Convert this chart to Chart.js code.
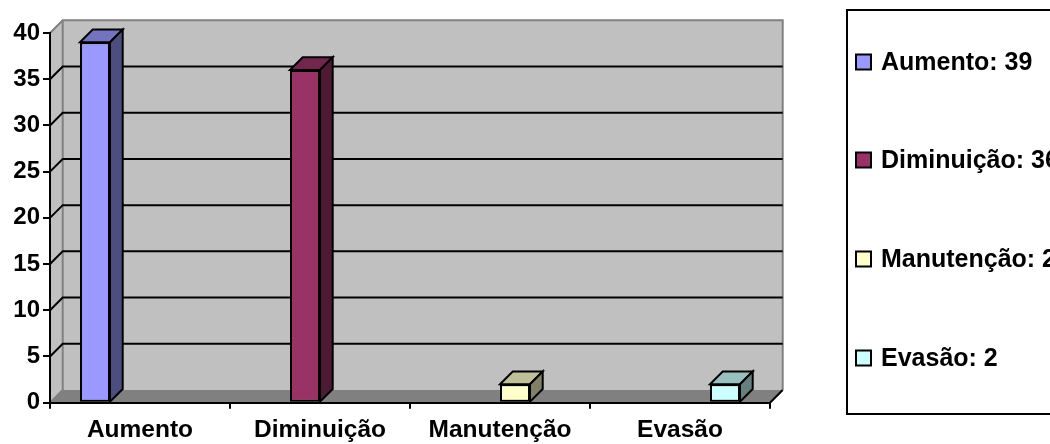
<!DOCTYPE html>
<html>
<head>
<meta charset="utf-8">
<script src="https://cdn.jsdelivr.net/npm/chart.js@4/dist/chart.umd.min.js"></script>
<style>
  html, body { margin: 0; padding: 0; background: #ffffff; }
  #wrap { width: 1050px; height: 444px; position: relative; overflow: hidden; }
  canvas { display: block; }
</style>
</head>
<body>
<div id="wrap"><canvas id="c" width="1050" height="444"></canvas></div>
<script>
// ---- data ----
const categories = ['Aumento', 'Diminuição', 'Manutenção', 'Evasão'];
const values = [39, 36, 2, 2];
const yTicks = [0, 5, 10, 15, 20, 25, 30, 35, 40];

// ---- styles ----
const frontColors = ['#9999FF', '#993366', '#FFFFCC', '#CCFFFF'];
const topColors   = ['#7373BF', '#73264D', '#BFBF99', '#99BFBF'];
const sideColors  = ['#4D4D80', '#4D1A33', '#808066', '#668080'];
const FONT = '"Liberation Sans", Arial, Helvetica, sans-serif';
const DEPTH = 12.7;

const datasets = categories.map((name, i) => ({
  label: name + ': ' + values[i],
  data: categories.map((c, j) => (j === i ? values[i] : null)),
  backgroundColor: frontColors[i],
  borderColor: '#000000',
  borderWidth: 2,
  borderSkipped: false,
  categoryPercentage: 2 / 3,
  barPercentage: 1.0
}));

const wallPlugin = {
  id: 'walls',
  beforeDraw(chart) {
    const ctx = chart.ctx;
    const a = chart.chartArea;
    const ys = chart.scales.y;
    const d = DEPTH;
    const yTop = ys.getPixelForValue(40);
    const yBot = ys.getPixelForValue(0);
    ctx.save();
    // back wall
    ctx.fillStyle = '#C0C0C0';
    ctx.fillRect(a.left + d, yTop - d, a.right - a.left, yBot - yTop);
    // side wall
    ctx.beginPath();
    ctx.moveTo(a.left, yTop);
    ctx.lineTo(a.left + d, yTop - d);
    ctx.lineTo(a.left + d, yBot - d);
    ctx.lineTo(a.left, yBot);
    ctx.closePath();
    ctx.fill();
    // floor
    ctx.fillStyle = '#808080';
    ctx.beginPath();
    ctx.moveTo(a.left, yBot);
    ctx.lineTo(a.left + d, yBot - d);
    ctx.lineTo(a.right + d, yBot - d);
    ctx.lineTo(a.right, yBot);
    ctx.closePath();
    ctx.fill();
    // gray borders of walls
    ctx.strokeStyle = '#808080';
    ctx.lineWidth = 2;
    ctx.beginPath();
    ctx.moveTo(a.left, yTop);
    ctx.lineTo(a.left + d, yTop - d);
    ctx.lineTo(a.right + d, yTop - d);
    ctx.lineTo(a.right + d, yBot - d);
    ctx.moveTo(a.left + d, yTop - d);
    ctx.lineTo(a.left + d, yBot - d);
    ctx.moveTo(a.left, yBot);
    ctx.lineTo(a.left + d, yBot - d);
    ctx.stroke();
    // grid lines
    ctx.strokeStyle = '#000000';
    ctx.lineWidth = 2;
    ctx.beginPath();
    yTicks.forEach(v => {
      if (v === 0 || v === 40) return;
      const yp = ys.getPixelForValue(v);
      ctx.moveTo(a.left, yp);
      ctx.lineTo(a.left + d, yp - d);
      ctx.lineTo(a.right + d, yp - d);
    });
    ctx.stroke();
    // right floor edge
    ctx.beginPath();
    ctx.moveTo(a.right, yBot);
    ctx.lineTo(a.right + d, yBot - d);
    ctx.stroke();
    ctx.restore();
  },
  afterDatasetsDraw(chart) {
    const ctx = chart.ctx;
    const d = DEPTH;
    ctx.save();
    ctx.strokeStyle = '#000000';
    ctx.lineWidth = 2;
    ctx.lineJoin = 'miter';
    chart.data.datasets.forEach((ds, i) => {
      const meta = chart.getDatasetMeta(i);
      meta.data.forEach((el, j) => {
        if (ds.data[j] === null || ds.data[j] === undefined) return;
        const p = el.getProps(['x', 'y', 'base', 'width'], true);
        const l = p.x - p.width / 2, r = p.x + p.width / 2;
        // top face
        ctx.fillStyle = topColors[i];
        ctx.beginPath();
        ctx.moveTo(l, p.y);
        ctx.lineTo(l + d, p.y - d);
        ctx.lineTo(r + d, p.y - d);
        ctx.lineTo(r, p.y);
        ctx.closePath();
        ctx.fill();
        ctx.stroke();
        // side face
        ctx.fillStyle = sideColors[i];
        ctx.beginPath();
        ctx.moveTo(r, p.y);
        ctx.lineTo(r + d, p.y - d);
        ctx.lineTo(r + d, p.base - d);
        ctx.lineTo(r, p.base);
        ctx.closePath();
        ctx.fill();
        ctx.stroke();
      });
    });
    ctx.restore();
  },
  afterDraw(chart) {
    // legend box
    const ctx = chart.ctx;
    ctx.save();
    ctx.strokeStyle = '#000000';
    ctx.lineWidth = 2;
    ctx.strokeRect(847, 10, 240, 404);
    const centers = [62, 160, 259, 358];
    ctx.font = 'bold 25px ' + FONT;
    ctx.textBaseline = 'middle';
    ctx.textAlign = 'left';
    chart.data.datasets.forEach((ds, i) => {
      const cy = centers[i];
      ctx.fillStyle = frontColors[i];
      ctx.fillRect(856, cy - 7.5, 15, 15);
      ctx.lineWidth = 2;
      ctx.strokeRect(856, cy - 7.5, 15, 15);
      ctx.fillStyle = '#000000';
      ctx.fillText(ds.label, 881, cy + 1);
    });
    ctx.restore();
  }
};

new Chart(document.getElementById('c'), {
  type: 'bar',
  data: { labels: categories, datasets },
  plugins: [wallPlugin],
  options: {
    responsive: false,
    animation: false,
    events: [],
    layout: { padding: { left: 0, right: 280, top: 33, bottom: 0 } },
    plugins: { legend: { display: false }, tooltip: { enabled: false }, title: { display: false } },
    scales: {
      x: {
        grid: { display: true, drawOnChartArea: false, drawTicks: true, tickLength: 6, color: '#000000', lineWidth: 2, offset: true },
        border: { display: true, color: '#000000', width: 2 },
        ticks: { color: '#000000', font: { family: FONT, size: 24.5, weight: 'bold' }, padding: 7, maxRotation: 0, autoSkip: false },
        afterFit(s) { s.height = 41.3; }
      },
      y: {
        min: 0, max: 40,
        afterBuildTicks(s) { s.ticks = yTicks.map(v => ({ value: v })); },
        grid: { display: true, drawOnChartArea: false, drawTicks: true, tickLength: 7, color: '#000000', lineWidth: 2 },
        border: { display: true, color: '#000000', width: 2 },
        ticks: { color: '#000000', font: { family: FONT, size: 24, weight: 'bold' }, padding: 3 },
        afterFit(s) { s.width = 50; }
      }
    }
  }
});
</script>
</body>
</html>
